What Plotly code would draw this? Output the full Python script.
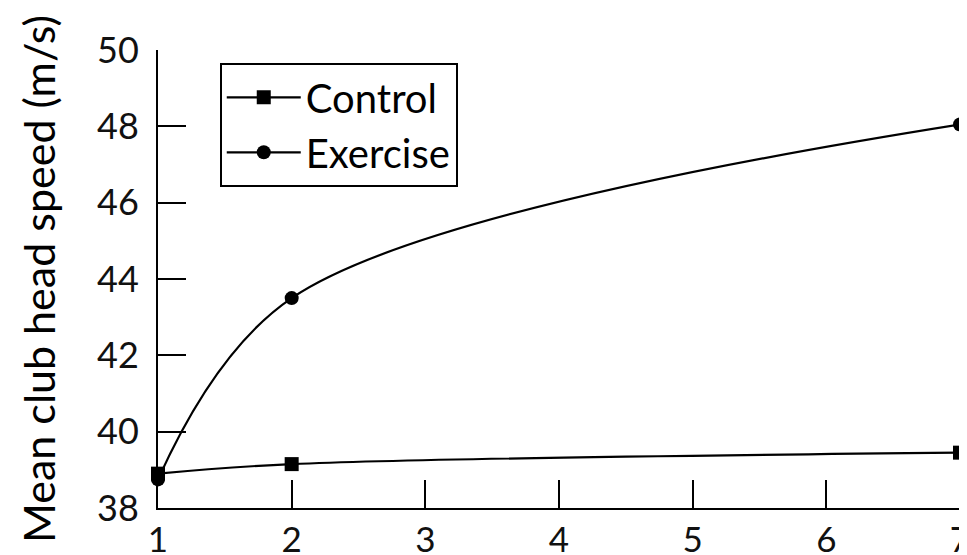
import plotly.graph_objects as go

# Data
days = [1, 2, 7]
control = [38.9, 39.15, 39.45]
exercise = [38.75, 43.5, 48.05]
x_ticks = [1, 2, 3, 4, 5, 6, 7]
y_ticks = [38, 40, 42, 44, 46, 48, 50]

FONT = "Lato"

fig = go.Figure()
fig.add_trace(go.Scatter(
    x=days, y=control, name="Control", mode="lines+markers",
    line=dict(color="black", width=2.2, shape="spline", smoothing=1),
    marker=dict(symbol="square", size=14, color="black"),
    cliponaxis=False,
))
fig.add_trace(go.Scatter(
    x=days, y=exercise, name="Exercise", mode="lines+markers",
    line=dict(color="black", width=2.2, shape="spline", smoothing=1),
    marker=dict(symbol="circle", size=14, color="black"),
    cliponaxis=False,
))

# the page body has an 8px margin, so the figure is sized to end at the window edges
fig.update_layout(
    width=959, height=547,
    margin=dict(l=150, r=7, t=42, b=47, autoexpand=False),
    paper_bgcolor="white", plot_bgcolor="white",
    font=dict(family=FONT, size=34, color="black"),
    showlegend=True,
    legend=dict(
        x=0.077, y=0.972, xanchor="left", yanchor="top",
        bordercolor="black", borderwidth=2, bgcolor="white",
        font=dict(size=40, color="black"),
        tracegroupgap=0, itemwidth=74,
    ),
    xaxis=dict(
        range=[1, 7], tickvals=x_ticks, ticktext=[str(v) for v in x_ticks],
        showgrid=False, zeroline=False, showline=True, linecolor="black", linewidth=2,
        ticks="inside", ticklen=28, tickwidth=2, tickcolor="black",
        ticklabelstandoff=0, automargin=False, ticklabeloverflow="allow",
        tickfont=dict(size=35, color="#111"),
    ),
    yaxis=dict(
        range=[38, 50], tickvals=y_ticks, ticktext=[str(v) for v in y_ticks],
        showgrid=False, zeroline=False, showline=True, linecolor="black", linewidth=2,
        ticks="inside", ticklen=28, tickwidth=2, tickcolor="black",
        ticklabelstandoff=10, automargin=False,
        tickfont=dict(size=36, color="#111"),
        title=dict(text="Mean club head speed (m/s)", font=dict(size=43, color="black"), standoff=28),
    ),
)

fig.write_html("out.html")
